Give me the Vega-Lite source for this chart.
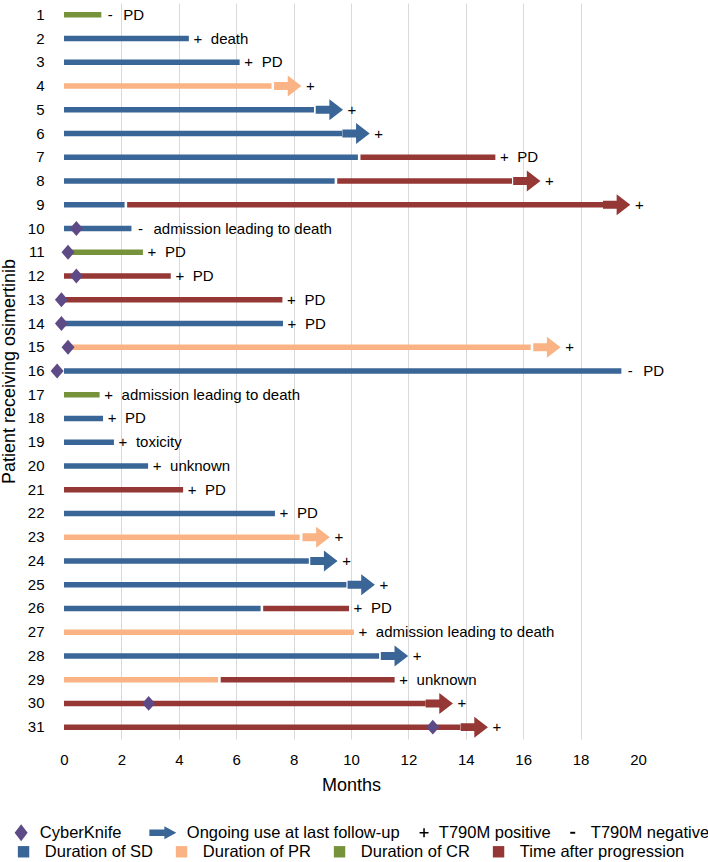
{
  "$schema": "https://vega.github.io/schema/vega-lite/v6.json",
  "autosize": {"type": "none"},
  "width": 574,
  "height": 736,
  "padding": {"left": 64, "top": 3, "right": 70, "bottom": 123},
  "background": "white",
  "config": {
    "font": "Liberation Sans",
    "view": {"stroke": null},
    "axis": {"labelColor": "#000000", "titleColor": "#000000", "titleFontWeight": "normal", "domain": false, "ticks": false, "tickSize": 0},
    "legend": {"labelColor": "#000000", "labelFont": "Liberation Sans", "padding": 0}
  },
  "datasets": {
    "segments": [
      {"patient": 1, "phase": "Duration of CR", "start": 0, "end": 1.3},
      {"patient": 2, "phase": "Duration of SD", "start": 0, "end": 4.35},
      {"patient": 3, "phase": "Duration of SD", "start": 0, "end": 6.12},
      {"patient": 4, "phase": "Duration of PR", "start": 0, "end": 7.23},
      {"patient": 5, "phase": "Duration of SD", "start": 0, "end": 8.71},
      {"patient": 6, "phase": "Duration of SD", "start": 0, "end": 9.69},
      {"patient": 7, "phase": "Duration of SD", "start": 0, "end": 10.24},
      {"patient": 7, "phase": "Time after progression", "start": 10.33, "end": 15.03},
      {"patient": 8, "phase": "Duration of SD", "start": 0, "end": 9.43},
      {"patient": 8, "phase": "Time after progression", "start": 9.52, "end": 15.61},
      {"patient": 9, "phase": "Duration of SD", "start": 0, "end": 2.11},
      {"patient": 9, "phase": "Time after progression", "start": 2.2, "end": 18.78},
      {"patient": 10, "phase": "Duration of SD", "start": 0, "end": 2.35},
      {"patient": 11, "phase": "Duration of CR", "start": 0, "end": 2.75},
      {"patient": 12, "phase": "Time after progression", "start": 0, "end": 3.72},
      {"patient": 13, "phase": "Time after progression", "start": 0, "end": 7.61},
      {"patient": 14, "phase": "Duration of SD", "start": 0, "end": 7.63},
      {"patient": 15, "phase": "Duration of PR", "start": 0, "end": 16.26},
      {"patient": 16, "phase": "Duration of SD", "start": 0, "end": 19.42},
      {"patient": 17, "phase": "Duration of CR", "start": 0, "end": 1.24},
      {"patient": 18, "phase": "Duration of SD", "start": 0, "end": 1.36},
      {"patient": 19, "phase": "Duration of SD", "start": 0, "end": 1.74},
      {"patient": 20, "phase": "Duration of SD", "start": 0, "end": 2.93},
      {"patient": 21, "phase": "Time after progression", "start": 0, "end": 4.15},
      {"patient": 22, "phase": "Duration of SD", "start": 0, "end": 7.35},
      {"patient": 23, "phase": "Duration of PR", "start": 0, "end": 8.21},
      {"patient": 24, "phase": "Duration of SD", "start": 0, "end": 8.53},
      {"patient": 25, "phase": "Duration of SD", "start": 0, "end": 9.84},
      {"patient": 26, "phase": "Duration of SD", "start": 0, "end": 6.85},
      {"patient": 26, "phase": "Time after progression", "start": 6.94, "end": 9.93},
      {"patient": 27, "phase": "Duration of PR", "start": 0, "end": 10.1},
      {"patient": 28, "phase": "Duration of SD", "start": 0, "end": 10.98},
      {"patient": 29, "phase": "Duration of PR", "start": 0, "end": 5.37},
      {"patient": 29, "phase": "Time after progression", "start": 5.46, "end": 11.52},
      {"patient": 30, "phase": "Time after progression", "start": 0, "end": 12.6},
      {"patient": 31, "phase": "Time after progression", "start": 0, "end": 13.81}
    ],
    "arrows": [
      {"patient": 4, "phase": "Duration of PR", "tip": 8.27},
      {"patient": 5, "phase": "Duration of SD", "tip": 9.72},
      {"patient": 6, "phase": "Duration of SD", "tip": 10.65},
      {"patient": 8, "phase": "Time after progression", "tip": 16.6},
      {"patient": 9, "phase": "Time after progression", "tip": 19.73},
      {"patient": 15, "phase": "Duration of PR", "tip": 17.3},
      {"patient": 23, "phase": "Duration of PR", "tip": 9.26},
      {"patient": 24, "phase": "Duration of SD", "tip": 9.53},
      {"patient": 25, "phase": "Duration of SD", "tip": 10.83},
      {"patient": 28, "phase": "Duration of SD", "tip": 11.99},
      {"patient": 30, "phase": "Time after progression", "tip": 13.55},
      {"patient": 31, "phase": "Time after progression", "tip": 14.77}
    ],
    "cyberknife": [
      {"patient": 10, "month": 0.43},
      {"patient": 11, "month": 0.14},
      {"patient": 12, "month": 0.43},
      {"patient": 13, "month": -0.09},
      {"patient": 14, "month": -0.09},
      {"patient": 15, "month": 0.14},
      {"patient": 16, "month": -0.24},
      {"patient": 30, "month": 2.95},
      {"patient": 31, "month": 12.85}
    ],
    "notes": [
      {"patient": 1, "end": 1.3, "sign": "-", "note": "PD"},
      {"patient": 2, "end": 4.35, "sign": "+", "note": "death"},
      {"patient": 3, "end": 6.12, "sign": "+", "note": "PD"},
      {"patient": 4, "end": 8.27, "sign": "+", "note": ""},
      {"patient": 5, "end": 9.72, "sign": "+", "note": ""},
      {"patient": 6, "end": 10.65, "sign": "+", "note": ""},
      {"patient": 7, "end": 15.03, "sign": "+", "note": "PD"},
      {"patient": 8, "end": 16.6, "sign": "+", "note": ""},
      {"patient": 9, "end": 19.73, "sign": "+", "note": ""},
      {"patient": 10, "end": 2.35, "sign": "-", "note": "admission leading to death"},
      {"patient": 11, "end": 2.75, "sign": "+", "note": "PD"},
      {"patient": 12, "end": 3.72, "sign": "+", "note": "PD"},
      {"patient": 13, "end": 7.61, "sign": "+", "note": "PD"},
      {"patient": 14, "end": 7.63, "sign": "+", "note": "PD"},
      {"patient": 15, "end": 17.3, "sign": "+", "note": ""},
      {"patient": 16, "end": 19.42, "sign": "-", "note": "PD"},
      {"patient": 17, "end": 1.24, "sign": "+", "note": "admission leading to death"},
      {"patient": 18, "end": 1.36, "sign": "+", "note": "PD"},
      {"patient": 19, "end": 1.74, "sign": "+", "note": "toxicity"},
      {"patient": 20, "end": 2.93, "sign": "+", "note": "unknown"},
      {"patient": 21, "end": 4.15, "sign": "+", "note": "PD"},
      {"patient": 22, "end": 7.35, "sign": "+", "note": "PD"},
      {"patient": 23, "end": 9.26, "sign": "+", "note": ""},
      {"patient": 24, "end": 9.53, "sign": "+", "note": ""},
      {"patient": 25, "end": 10.83, "sign": "+", "note": ""},
      {"patient": 26, "end": 9.93, "sign": "+", "note": "PD"},
      {"patient": 27, "end": 10.1, "sign": "+", "note": "admission leading to death"},
      {"patient": 28, "end": 11.99, "sign": "+", "note": ""},
      {"patient": 29, "end": 11.52, "sign": "+", "note": "unknown"},
      {"patient": 30, "end": 13.55, "sign": "+", "note": ""},
      {"patient": 31, "end": 14.77, "sign": "+", "note": ""}
    ],
    "keyitems": []
  },
  "encoding": {
    "y": {
      "field": "patient",
      "type": "ordinal",
      "axis": {
        "title": "Patient receiving osimertinib",
        "titleFontSize": 18,
        "titlePadding": 9,
        "labelFontSize": 15,
        "labelPadding": 20,
        "grid": false
      }
    }
  },
  "layer": [
    {
      "data": {"name": "segments"},
      "mark": {"type": "bar", "size": 5.5},
      "encoding": {
        "x": {
          "field": "start",
          "type": "quantitative",
          "scale": {"domain": [0, 20], "nice": false, "zero": false},
          "axis": {
            "title": "Months",
            "titleFontSize": 18,
            "titlePadding": 9,
            "labelFontSize": 15,
            "labelPadding": 13,
            "labelFlush": false,
            "values": [0, 2, 4, 6, 8, 10, 12, 14, 16, 18, 20],
            "grid": true,
            "gridColor": "#d9d9d9",
            "gridWidth": 1,
            "gridOpacity": {"condition": {"test": "datum.value === 0 || datum.value === 20", "value": 0}, "value": 1}
          }
        },
        "x2": {"field": "end"},
        "color": {
          "field": "phase",
          "type": "nominal",
          "scale": {
            "domain": ["Duration of SD", "Duration of PR", "Duration of CR", "Time after progression"],
            "range": ["#3a6597", "#f9b384", "#76933c", "#953735"]
          },
          "legend": {
            "title": null,
            "orient": "none",
            "direction": "horizontal",
            "legendX": -48.7,
            "legendY": 840.4,
            "symbolType": "square",
            "symbolSize": 130,
            "symbolStrokeWidth": 0,
            "labelFontSize": 16.5,
            "labelOffset": 13,
            "labelLimit": 300,
            "columnPadding": 20
          }
        }
      }
    },
    {
      "data": {"name": "arrows"},
      "mark": {"type": "point", "filled": true, "opacity": 1, "size": 441, "xOffset": -13.6, "strokeWidth": 0, "shape": "M-1.3,-0.38L0,-0.38L0,-1L1.3,0L0,1L0,0.38L-1.3,0.38Z"},
      "encoding": {
        "x": {"field": "tip", "type": "quantitative"},
        "color": {"field": "phase", "type": "nominal"}
      }
    },
    {
      "data": {"name": "cyberknife"},
      "mark": {"type": "point", "filled": true, "opacity": 1, "size": 169, "strokeWidth": 0, "color": "#5e4a86", "shape": "M0,-1.15L1,0L0,1.15L-1,0Z"},
      "encoding": {
        "x": {"field": "month", "type": "quantitative"}
      }
    },
    {
      "data": {"name": "keyitems"},
      "mark": {"type": "point", "filled": true, "opacity": 1, "strokeWidth": 0},
      "encoding": {
        "shape": {
          "field": "item",
          "type": "nominal",
          "scale": {
            "domain": ["CyberKnife", "Ongoing use at last follow-up", "T790M positive", "T790M negative"],
            "range": [
              "M1.89,-1.31L2.89,0L1.89,1.31L0.89,0Z M21.3,0L21.31,0L21.3,0.01Z",
              "M-1,-0.5L1.31,-0.5L1.31,-1L3.15,0L1.31,1L1.31,0.5L-1,0.5Z",
              "M2.37,-0.69L2.61,-0.69L2.61,-0.12L3.18,-0.12L3.18,0.12L2.61,0.12L2.61,0.69L2.37,0.69L2.37,0.12L1.8,0.12L1.8,-0.12L2.37,-0.12Z",
              "M1.6,-0.15L2.36,-0.15L2.36,0.15L1.6,0.15Z"
            ]
          },
          "legend": {
            "title": null,
            "orient": "none",
            "direction": "horizontal",
            "legendX": -63.4,
            "legendY": 821.4,
            "symbolSize": 169,
            "symbolStrokeWidth": 0,
            "labelFontSize": 16.5,
            "labelOffset": 22.7,
            "labelLimit": 300,
            "columnPadding": 0
          }
        },
        "fill": {
          "field": "item",
          "type": "nominal",
          "scale": {
            "domain": ["CyberKnife", "Ongoing use at last follow-up", "T790M positive", "T790M negative"],
            "range": ["#5e4a86", "#3a6597", "#000000", "#000000"]
          },
          "legend": {
            "title": null,
            "orient": "none",
            "direction": "horizontal",
            "legendX": -63.4,
            "legendY": 821.4,
            "symbolSize": 169,
            "symbolStrokeWidth": 0,
            "labelFontSize": 16.5,
            "labelOffset": 22.7,
            "labelLimit": 300,
            "columnPadding": 0
          }
        }
      }
    },
    {
      "data": {"name": "notes"},
      "mark": {"type": "text", "align": "center", "baseline": "middle", "dx": 9, "fontSize": 15, "color": "#000000"},
      "encoding": {
        "x": {"field": "end", "type": "quantitative"},
        "text": {"field": "sign"}
      }
    },
    {
      "data": {"name": "notes"},
      "mark": {"type": "text", "align": "left", "baseline": "middle", "dx": 22, "fontSize": 15, "color": "#000000"},
      "encoding": {
        "x": {"field": "end", "type": "quantitative"},
        "text": {"field": "note"}
      }
    }
  ]
}
